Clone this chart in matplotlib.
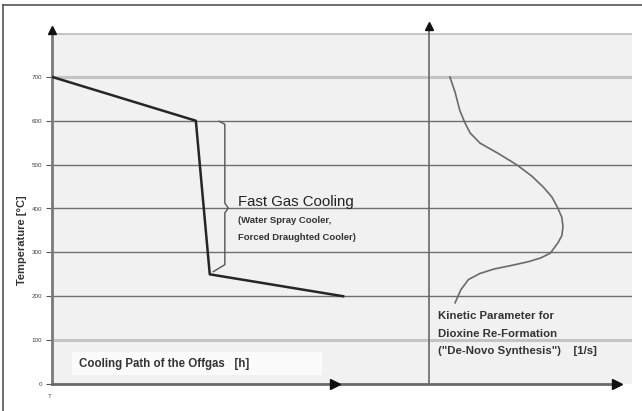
import matplotlib

matplotlib.use("Agg")
import matplotlib.pyplot as plt
from matplotlib.lines import Line2D
from matplotlib.patches import Rectangle

plt.rcParams["font.family"] = ["Liberation Sans Narrow", "Liberation Sans", "DejaVu Sans"]

# temperature grid / tick labels (°C)
grid_levels = [100, 200, 300, 400, 500, 600, 700, 800]
tick_values = [0, 100, 200, 300, 400, 500, 600, 700]
tick_labels = ["0", "100", "200", "300", "400", "500", "600", "700"]
light_levels = [100, 700, 800]

# cooling path of the offgas (time units, °C)
path_time = [0.0, 2.48, 2.72, 5.02]
path_temp = [700, 600, 250, 200]

# kinetic parameter curve (rate units, °C)
kinetic_rate = [6.86, 6.95, 7.03, 7.12, 7.21, 7.38, 7.70, 8.02, 8.27, 8.47,
                8.62, 8.71, 8.79, 8.81, 8.79, 8.72, 8.59, 8.42, 8.22, 7.95,
                7.62, 7.38, 7.18, 7.05, 6.95]
kinetic_temp = [700, 665, 624, 595, 572, 549, 525, 499, 474, 449,
                426, 404, 380, 358, 338, 321, 298, 287, 279, 271,
                262, 252, 238, 215, 185]

fig = plt.figure(figsize=(6.42, 4.11), dpi=100)
ax = fig.add_axes([52 / 642, 27 / 411, 580 / 642, 351 / 411])
ax.set_xlim(0, 10)
ax.set_ylim(0, 800)
ax.set_facecolor("#f1f1f1")
for side in ax.spines.values():
    side.set_visible(False)
ax.set_xticks([])
ax.set_yticks(tick_values)
ax.set_yticklabels(tick_labels, fontsize=4.5, color="#444444")
ax.tick_params(axis="y", length=4, width=0.8, color="#555555", pad=3)

# horizontal grid
for level in grid_levels:
    if level in light_levels:
        ax.axhline(level, color="#c4c4c4", lw=2.2, zorder=1)
    else:
        ax.axhline(level, color="#6e6e6e", lw=1.0, zorder=1)

# white label box at the bottom
ax.add_patch(Rectangle((0.34, 20), 4.32, 53, facecolor="#fbfbfb", edgecolor="none", zorder=2))

# axes drawn by hand with arrow heads
ax.plot([0, 0], [0, 800], color="#7a7a7a", lw=2.0, clip_on=False, zorder=3)
ax.plot([6.5, 6.5], [0, 810], color="#6a6a6a", lw=1.2, clip_on=False, zorder=3)
ax.plot([0, 9.74], [0, 0], color="#6a6a6a", lw=2.0, clip_on=False, zorder=3)
ax.plot([0], [806], marker="^", color="#111111", ms=6, clip_on=False, zorder=4)
ax.plot([6.5], [815], marker="^", color="#111111", ms=6, clip_on=False, zorder=4)
ax.plot([4.88], [0], marker=">", color="#111111", ms=7, clip_on=False, zorder=4)
ax.plot([9.74], [0], marker=">", color="#111111", ms=7, clip_on=False, zorder=4)

# cooling path
ax.plot(path_time, path_temp, color="#262626", lw=1.8, zorder=5)

# bracket for fast gas cooling
ax.plot([2.88, 2.98, 2.98, 3.04, 2.98, 2.98, 2.78],
        [599, 592, 412, 401, 390, 272, 256], color="#555555", lw=1.0, zorder=5)

# kinetic parameter curve
ax.plot(kinetic_rate, kinetic_temp, color="#6a6a6a", lw=1.2, zorder=5)

ax.text(3.2, 415, "Fast Gas Cooling", fontsize=10.8, color="#222222", va="center", zorder=6)
ax.text(3.2, 373, "(Water Spray Cooler,", fontsize=6.8, fontweight="bold",
        color="#333333", va="center", zorder=6)
ax.text(3.2, 334, "Forced Draughted Cooler)", fontsize=6.8, fontweight="bold",
        color="#333333", va="center", zorder=6)

ax.text(0.47, 46, "Cooling Path of the Offgas   [h]", fontsize=8.3, fontweight="bold",
        color="#333333", va="center", zorder=6)

ax.text(6.66, 155, "Kinetic Parameter for", fontsize=8.2, fontweight="bold",
        color="#333333", va="center", zorder=6)
ax.text(6.66, 114, "Dioxine Re-Formation", fontsize=8.2, fontweight="bold",
        color="#333333", va="center", zorder=6)
ax.text(6.66, 75, "(\"De-Novo Synthesis\")    [1/s]", fontsize=8.2, fontweight="bold",
        color="#333333", va="center", zorder=6)

fig.text(22 / 642, 1 - 240 / 411, "Temperature [°C]", rotation=90, fontsize=8,
         fontweight="bold", color="#333333", ha="center", va="center")
fig.text(50 / 642, 1 - 396 / 411, "T", fontsize=4.5, color="#555555", ha="center", va="center")

# outer frame (top and left edges)
fig.add_artist(Line2D([3 / 642, 3 / 642], [0, 1 - 5 / 411], color="#555555", lw=1.2))
fig.add_artist(Line2D([3 / 642, 1], [1 - 5 / 411, 1 - 5 / 411], color="#555555", lw=1.2))

fig.savefig("out.png", dpi=100)
plt.close(fig)
